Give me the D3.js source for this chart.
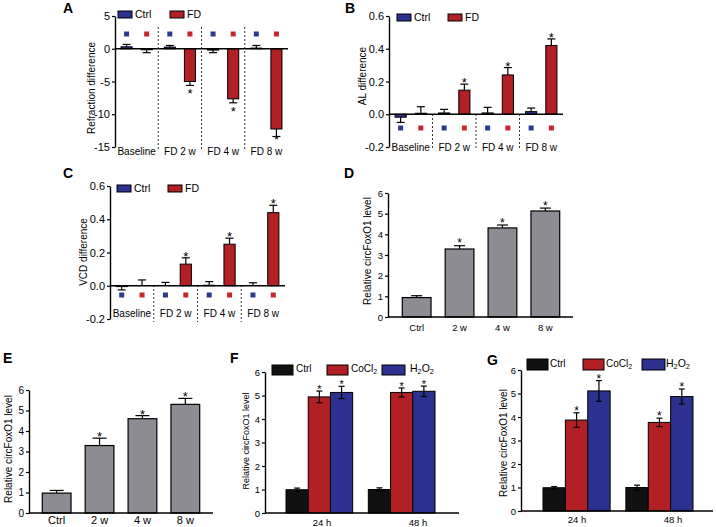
<!DOCTYPE html>
<html><head><meta charset="utf-8">
<script src="https://cdn.jsdelivr.net/npm/d3@7"></script>
<style>body{margin:0;background:#fff} svg{display:block;font-family:"Liberation Sans",Arial,Helvetica,sans-serif}</style>
</head><body><svg id="c" width="716" height="527"></svg>
<script>
// ---------- data ----------
const fdGroups = ["Baseline", "FD 2 w", "FD 4 w", "FD 8 w"];
const fdSeries = ["Ctrl", "FD"];
const fdStar = [false, true, true, true];

const refCtrl = [0.3, 0.25, -0.2, 0.1];
const refCtrlErr = [0.36, 0.25, 0.4, 0.4];
const refFD = [-0.15, -5.0, -7.65, -12.25];
const refFDErr = [0.45, 0.6, 0.6, 1.15];
const refTicks = [-15, -10, -5, 0, 5];

const alCtrl = [-0.018, 0.008, 0.008, 0.016];
const alCtrlErr = [0.032, 0.022, 0.034, 0.022];
const alFD = [0.006, 0.147, 0.24, 0.42];
const alFDErr = [0.04, 0.037, 0.045, 0.04];

const vcdCtrl = [-0.005, 0.0, 0.003, 0.0];
const vcdCtrlErr = [0.02, 0.02, 0.022, 0.018];
const vcdFD = [0.0, 0.13, 0.25, 0.44];
const vcdFDErr = [0.035, 0.038, 0.036, 0.044];
const smallTicks = [-0.2, 0, 0.2, 0.4, 0.6];

const timeLabels = ["Ctrl", "2 w", "4 w", "8 w"];
const timeStar = [false, true, true, true];
const dVals = [0.94, 3.29, 4.31, 5.13];
const dErr = [0.09, 0.16, 0.14, 0.14];
const eVals = [0.97, 3.29, 4.6, 5.3];
const eErr = [0.13, 0.36, 0.15, 0.29];
const levelTicks = [0, 1, 2, 3, 4, 5, 6];

const hours = ["24 h", "48 h"];
const treatments = ["Ctrl", "CoCl2", "H2O2"];
const treatStar = [false, true, true];
const fCtrl = [0.99, 1.0], fCtrlErr = [0.07, 0.07];
const fCoCl = [4.94, 5.13], fCoClErr = [0.25, 0.19];
const fH2O2 = [5.13, 5.18], fH2O2Err = [0.26, 0.22];
const gCtrl = [0.99, 1.0], gCtrlErr = [0.05, 0.1];
const gCoCl = [3.87, 3.77], gCoClErr = [0.31, 0.18];
const gH2O2 = [5.11, 4.87], gH2O2Err = [0.44, 0.32];

// ---------- style ----------
const RED = "#b21f24", BLUE = "#2c3190", GRAY = "#8d8c92", BLACK = "#111111";
const MRED = "#c4262c", MBLUE = "#2b3a8f";
const svg = d3.select("#c");

function letter(t, x, y) {
  svg.append("text").attr("x", x).attr("y", y).attr("font-size", 14).attr("font-weight", "bold").text(t);
}
function ylabel(t, x, y, fs) {
  svg.append("text").attr("transform", `translate(${x},${y}) rotate(-90)`)
    .attr("text-anchor", "middle").attr("font-size", fs).text(t);
}
function yAxis(g, y, x, ticks, fmt, fs) {
  const ax = g.append("g").attr("transform", `translate(${x},0)`)
    .call(d3.axisLeft(y).tickValues(ticks).tickFormat(fmt).tickSize(3).tickSizeOuter(0).tickPadding(2));
  ax.select(".domain").attr("stroke", "#000").attr("stroke-width", 1.4);
  ax.selectAll(".tick line").attr("stroke", "#000").attr("stroke-width", 1.2);
  ax.selectAll(".tick text").attr("font-size", fs).attr("fill", "#000").attr("font-family", null);
  return ax;
}
function subText(sel, t, fs) {
  const parts = t.match(/[A-Za-z]+|\d+/g);
  parts.forEach(p => {
    if (/^\d+$/.test(p)) sel.append("tspan").attr("font-size", fs * 0.7).attr("dy", 2).text(p);
    else sel.append("tspan").attr("font-size", fs).attr("dy", sel.selectAll("tspan").size() ? -2 : 0).text(p);
  });
}

// ---------- panels A-C ----------
function panelFD(o) {
  const g = svg.append("g");
  const x = d3.scaleBand().domain(fdGroups).range(o.xr).padding(0);
  const xi = d3.scaleBand().domain(fdSeries).range([0, x.bandwidth()]).paddingInner(0.45).paddingOuter(0.3);
  const y = d3.scaleLinear().domain(o.yd).range(o.yr);
  const y0 = y(0);
  const rows = [];
  fdGroups.forEach((c, i) => {
    rows.push({ c, s: "Ctrl", v: o.ctrl[i], e: o.ctrlErr[i], star: false });
    rows.push({ c, s: "FD", v: o.fd[i], e: o.fdErr[i], star: fdStar[i] });
  });
  g.selectAll("line.sep").data(fdGroups.slice(1)).join("line")
    .attr("x1", d => x(d)).attr("x2", d => x(d)).attr("y1", o.dash[0]).attr("y2", o.dash[1])
    .attr("stroke", "#333").attr("stroke-width", 1).attr("stroke-dasharray", "2,2");
  rows.forEach(r => {
    const cx = x(r.c) + xi(r.s) + xi.bandwidth() / 2;
    const dir = r.v < 0 ? -1 : 1;
    const yEnd = y(r.v + dir * r.e);
    g.append("line").attr("x1", cx).attr("x2", cx).attr("y1", y(r.v)).attr("y2", yEnd).attr("stroke", "#000").attr("stroke-width", 1.2);
    g.append("line").attr("x1", cx - 4).attr("x2", cx + 4).attr("y1", yEnd).attr("y2", yEnd).attr("stroke", "#000").attr("stroke-width", 1.2);
  });
  g.selectAll("rect.bar").data(rows).join("rect")
    .attr("x", d => x(d.c) + xi(d.s)).attr("width", xi.bandwidth())
    .attr("y", d => Math.min(y(d.v), y0)).attr("height", d => Math.abs(y(d.v) - y0))
    .attr("fill", d => d.s === "Ctrl" ? BLUE : RED).attr("stroke", "#000").attr("stroke-width", 1);
  rows.forEach(r => {
    const cx = x(r.c) + xi(r.s) + xi.bandwidth() / 2;
    g.append("rect").attr("x", cx - 2.5).attr("y", o.markerY - 2.5).attr("width", 5).attr("height", 5)
      .attr("fill", r.s === "Ctrl" ? MBLUE : MRED);
    if (r.star) {
      const dir = r.v < 0 ? -1 : 1;
      const yEnd = y(r.v + dir * r.e);
      g.append("text").attr("x", cx).attr("y", dir < 0 ? Math.min(yEnd + 13, o.yr[0] - 3) : yEnd + 3)
        .attr("text-anchor", "middle").attr("font-size", 13).text("*");
    }
  });
  g.append("line").attr("x1", o.xr[0]).attr("x2", o.xr[1]).attr("y1", y0).attr("y2", y0).attr("stroke", "#000").attr("stroke-width", 1.4);
  yAxis(g, y, o.xr[0], o.ticks, o.fmt, 11);
  g.selectAll("text.cat").data(fdGroups).join("text")
    .attr("x", d => x(d) + x.bandwidth() / 2).attr("y", o.catY).attr("text-anchor", "middle")
    .attr("font-size", 10).text(d => d);
  fdSeries.forEach((s, i) => {
    g.append("rect").attr("x", o.leg[i]).attr("y", o.legY).attr("width", 14).attr("height", 7)
      .attr("fill", i ? RED : BLUE).attr("stroke", "#000").attr("stroke-width", 1);
    g.append("text").attr("x", o.leg[i] + 17).attr("y", o.legY + 7).attr("font-size", 10.5).text(s);
  });
  ylabel(o.label, o.lab[0], o.lab[1], 10);
  letter(o.letter, o.let[0], o.let[1]);
}

const fmt1 = d => d.toFixed(1);
panelFD({ xr: [115, 288], yd: [-15, 5], yr: [147, 16], ticks: refTicks, fmt: d => String(d),
  ctrl: refCtrl, ctrlErr: refCtrlErr, fd: refFD, fdErr: refFDErr, markerY: 34, dash: [27, 149], catY: 155,
  leg: [118, 170], legY: 11, label: "Refraction difference", lab: [95, 88], letter: "A", let: [63, 13] });
panelFD({ xr: [389, 563], yd: [-0.2, 0.6], yr: [147, 16], ticks: smallTicks, fmt: fmt1,
  ctrl: alCtrl, ctrlErr: alCtrlErr, fd: alFD, fdErr: alFDErr, markerY: 128, dash: [114, 149], catY: 151,
  leg: [397, 448], legY: 14, label: "AL difference", lab: [366, 76], letter: "B", let: [345, 13] });
panelFD({ xr: [110, 285], yd: [-0.2, 0.6], yr: [319, 186], ticks: smallTicks, fmt: fmt1,
  ctrl: vcdCtrl, ctrlErr: vcdCtrlErr, fd: vcdFD, fdErr: vcdFDErr, markerY: 295, dash: [285, 322], catY: 317,
  leg: [117, 168], legY: 185, label: "VCD difference", lab: [87, 252], letter: "C", let: [63, 178] });

// ---------- panels D, E ----------
function panelTime(o) {
  const g = svg.append("g");
  const x = d3.scaleBand().domain(timeLabels).range(o.br).paddingInner(0.33).paddingOuter(0.17);
  const y = d3.scaleLinear().domain([0, 6]).range(o.yr);
  const rows = timeLabels.map((c, i) => ({ c, v: o.vals[i], e: o.err[i], star: timeStar[i] }));
  rows.forEach(r => {
    const cx = x(r.c) + x.bandwidth() / 2, yEnd = y(r.v + r.e);
    g.append("line").attr("x1", cx).attr("x2", cx).attr("y1", y(r.v)).attr("y2", yEnd).attr("stroke", "#000").attr("stroke-width", 1.2);
    g.append("line").attr("x1", cx - o.cap).attr("x2", cx + o.cap).attr("y1", yEnd).attr("y2", yEnd).attr("stroke", "#000").attr("stroke-width", 1.2);
    if (r.star) g.append("text").attr("x", cx).attr("y", yEnd + o.starDy).attr("text-anchor", "middle").attr("font-size", o.starFs).text("*");
  });
  g.selectAll("rect.bar").data(rows).join("rect")
    .attr("x", d => x(d.c)).attr("width", x.bandwidth())
    .attr("y", d => y(d.v)).attr("height", d => y(0) - y(d.v))
    .attr("fill", GRAY).attr("stroke", "#000").attr("stroke-width", 1.2);
  g.append("line").attr("x1", o.ax[0]).attr("x2", o.ax[1]).attr("y1", y(0)).attr("y2", y(0)).attr("stroke", "#000").attr("stroke-width", 1.4);
  yAxis(g, y, o.ax[0], levelTicks, d => String(d), o.tickFs);
  g.selectAll("text.cat").data(timeLabels).join("text")
    .attr("x", d => x(d) + x.bandwidth() / 2).attr("y", o.catY).attr("text-anchor", "middle")
    .attr("font-size", o.catFs).text(d => d);
  ylabel("Relative circFoxO1 level", o.lab[0], o.lab[1], 10);
  letter(o.letter, o.let[0], o.let[1]);
}
panelTime({ br: [395, 567], ax: [388, 573], yr: [317, 193], vals: dVals, err: dErr, cap: 5.5, starFs: 12, starDy: 1.5,
  tickFs: 9.5, catFs: 9.5, catY: 331, lab: [371, 251], letter: "D", let: [344, 178] });
panelTime({ br: [35, 207], ax: [29, 213], yr: [513, 390], vals: eVals, err: eErr, cap: 7, starFs: 13, starDy: 3,
  tickFs: 10, catFs: 11, catY: 524, lab: [12, 449], letter: "E", let: [3, 363] });

// ---------- panels F, G ----------
function panelTreat(o) {
  const g = svg.append("g");
  const x = d3.scaleBand().domain(hours).range(o.br).paddingInner(0.19).paddingOuter(0);
  const xi = d3.scaleBand().domain(treatments).range([0, x.bandwidth()]).padding(0);
  const xl = d3.scalePoint().domain(hours).range(o.lr);
  const y = d3.scaleLinear().domain([0, 6]).range(o.yr);
  const cols = [BLACK, RED, BLUE];
  const rows = [];
  hours.forEach((h, i) => {
    treatments.forEach((t, j) => rows.push({ h, t, j, v: o.vals[j][i], e: o.errs[j][i], star: treatStar[j] }));
  });
  g.selectAll("rect.bar").data(rows).join("rect")
    .attr("x", d => x(d.h) + xi(d.t)).attr("width", xi.bandwidth())
    .attr("y", d => y(d.v)).attr("height", d => y(0) - y(d.v))
    .attr("fill", d => cols[d.j]).attr("stroke", "#000").attr("stroke-width", 1);
  rows.forEach(r => {
    const cx = x(r.h) + xi(r.t) + xi.bandwidth() / 2;
    const yt = y(r.v + r.e), yb = y(r.v - r.e);
    g.append("line").attr("x1", cx).attr("x2", cx).attr("y1", yt).attr("y2", yb).attr("stroke", "#000").attr("stroke-width", 1.2);
    [yt, yb].forEach(yy => g.append("line").attr("x1", cx - 3).attr("x2", cx + 3).attr("y1", yy).attr("y2", yy).attr("stroke", "#000").attr("stroke-width", 1.2));
    if (r.star) g.append("text").attr("x", cx).attr("y", yt + 2).attr("text-anchor", "middle").attr("font-size", o.starFs).text("*");
  });
  g.append("line").attr("x1", o.ax[0]).attr("x2", o.ax[1]).attr("y1", y(0)).attr("y2", y(0)).attr("stroke", "#000").attr("stroke-width", 1.4);
  yAxis(g, y, o.ax[0], levelTicks, d => String(d), 9.5);
  g.selectAll("text.cat").data(hours).join("text")
    .attr("x", d => xl(d)).attr("y", o.catY).attr("text-anchor", "middle").attr("font-size", 9.5).text(d => d);
  treatments.forEach((t, i) => {
    g.append("rect").attr("x", o.leg[i]).attr("y", o.legY).attr("width", i === 2 ? 23 : 21).attr("height", o.legH)
      .attr("fill", cols[i]).attr("stroke", "#000").attr("stroke-width", 1);
    const tx = g.append("text").attr("x", o.legT[i]).attr("y", o.legY + o.legH - 1).attr("font-size", 10);
    subText(tx, t, i === 2 ? 10.5 : 10);
  });
  ylabel("Relative circFoxO1 level", o.lab[0], o.lab[1], o.labFs);
  letter(o.letter, o.let[0], o.let[1]);
}
panelTreat({ br: [286, 435], lr: [322, 418], ax: [265, 459], yr: [513, 372],
  vals: [fCtrl, fCoCl, fH2O2], errs: [fCtrlErr, fCoClErr, fH2O2Err], starFs: 11, catY: 526,
  leg: [272, 327, 382], legT: [296, 351, 410], legY: 365, legH: 10, lab: [249, 441], labFs: 9,
  letter: "F", let: [230, 363] });
panelTreat({ br: [543, 693], lr: [577, 673], ax: [521, 713], yr: [511, 370],
  vals: [gCtrl, gCoCl, gH2O2], errs: [gCtrlErr, gCoClErr, gH2O2Err], starFs: 12, catY: 523,
  leg: [527, 583, 642], legT: [550, 606, 666], legY: 359, legH: 11, lab: [507, 443], labFs: 10,
  letter: "G", let: [487, 365] });
</script></body></html>
